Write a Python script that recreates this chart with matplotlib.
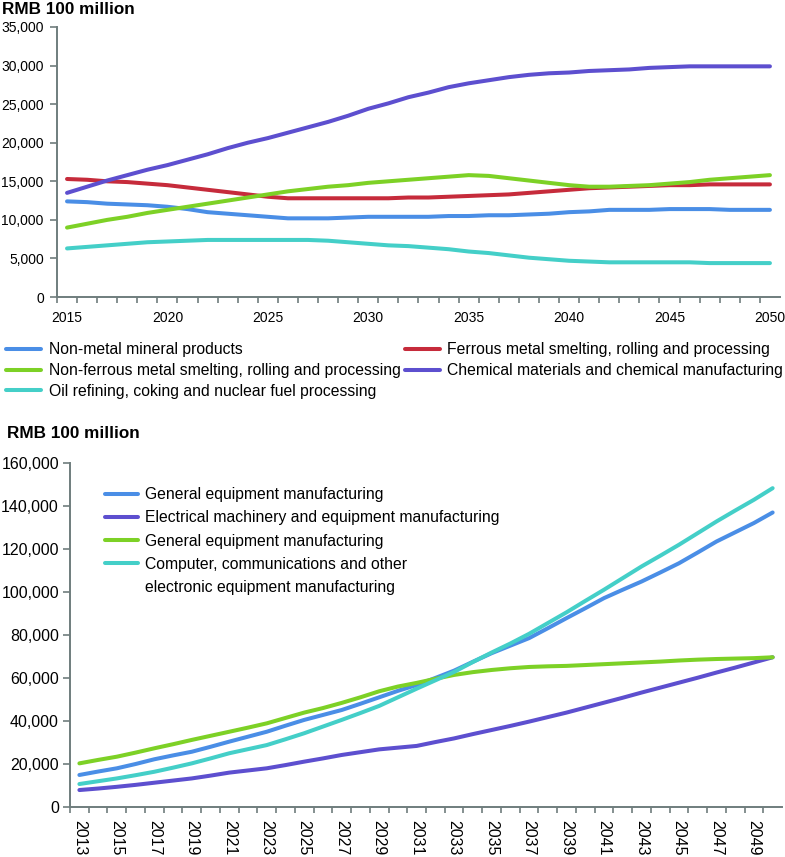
import matplotlib
matplotlib.use("Agg")
import matplotlib.pyplot as plt
from matplotlib.lines import Line2D
import numpy as np

plt.rcParams['font.family'] = ['Liberation Sans', 'DejaVu Sans']

# ---------------- Top chart data ----------------
years_top = list(range(2015, 2051))
non_metal = [12400, 12300, 12100, 12000, 11900, 11700, 11400, 11000, 10800, 10600,
             10400, 10200, 10200, 10200, 10300, 10400, 10400, 10400, 10400, 10500,
             10500, 10600, 10600, 10700, 10800, 11000, 11100, 11300, 11300, 11300,
             11400, 11400, 11400, 11300, 11300, 11300]
ferrous = [15300, 15200, 15000, 14900, 14700, 14500, 14200, 13900, 13600, 13300,
           13000, 12800, 12800, 12800, 12800, 12800, 12800, 12900, 12900, 13000,
           13100, 13200, 13300, 13500, 13700, 13900, 14100, 14200, 14300, 14400,
           14500, 14500, 14600, 14600, 14600, 14600]
non_ferrous = [9000, 9500, 10000, 10400, 10900, 11300, 11700, 12100, 12500, 12900,
               13300, 13700, 14000, 14300, 14500, 14800, 15000, 15200, 15400, 15600,
               15800, 15700, 15400, 15100, 14800, 14500, 14300, 14300, 14400, 14500,
               14700, 14900, 15200, 15400, 15600, 15800]
chemical = [13500, 14300, 15100, 15800, 16500, 17100, 17800, 18500, 19300, 20000,
            20600, 21300, 22000, 22700, 23500, 24400, 25100, 25900, 26500, 27200,
            27700, 28100, 28500, 28800, 29000, 29100, 29300, 29400, 29500, 29700,
            29800, 29900, 29900, 29900, 29900, 29900]
oil = [6300, 6500, 6700, 6900, 7100, 7200, 7300, 7400, 7400, 7400,
       7400, 7400, 7400, 7300, 7100, 6900, 6700, 6600, 6400, 6200,
       5900, 5700, 5400, 5100, 4900, 4700, 4600, 4500, 4500, 4500,
       4500, 4500, 4400, 4400, 4400, 4400]

top_labels = ["Non-metal mineral products",
              "Ferrous metal smelting, rolling and processing",
              "Non-ferrous metal smelting, rolling and processing",
              "Chemical materials and chemical manufacturing",
              "Oil refining, coking and nuclear fuel processing"]

# ---------------- Bottom chart data ----------------
years_bot = list(range(2013, 2051))
general_1 = [14900, 16500, 18000, 20000, 22200, 24000, 25700, 28000, 30400, 32700,
             35000, 37800, 40500, 42800, 45100, 48000, 51000, 54000, 56700, 60000,
             63400, 67500, 71500, 75000, 78500, 83100, 87800, 92400, 97100, 101000,
             104800, 109000, 113300, 118300, 123400, 127700, 132000, 136900]
electrical = [7900, 8600, 9400, 10300, 11300, 12300, 13300, 14600, 16000, 17000,
              18000, 19500, 21100, 22600, 24200, 25500, 26800, 27600, 28400, 30200,
              31900, 33900, 35800, 37700, 39700, 41800, 43900, 46200, 48500, 50800,
              53200, 55500, 57800, 60100, 62500, 64800, 67200, 69600]
general_2 = [20300, 21900, 23400, 25300, 27300, 29200, 31200, 33100, 35000, 36900,
             38900, 41400, 43900, 46000, 48400, 51000, 53800, 56000, 57700, 59600,
             61400, 62700, 63700, 64500, 65100, 65400, 65600, 66000, 66400, 66800,
             67200, 67600, 68100, 68500, 68800, 69000, 69200, 69600]
computer = [10700, 12000, 13300, 14800, 16400, 18300, 20300, 22600, 25000, 26900,
            28800, 31500, 34300, 37400, 40500, 43700, 47000, 51000, 55000, 58900,
            62800, 67400, 71800, 76000, 80500, 85500, 90500, 95800, 101000, 106400,
            111800, 116800, 121900, 127300, 132700, 137800, 142800, 148200]

bot_labels = ["General equipment manufacturing",
              "Electrical machinery and equipment manufacturing",
              "General equipment manufacturing",
              "Computer, communications and other",
              "electronic equipment manufacturing"]

c_blue = "#4a8ee6"
c_red = "#c62b3b"
c_green = "#7dd126"
c_purple = "#5d4fcf"
c_cyan = "#44cfc8"
spine_c = "#6f7d7d"
lw = 2.9

fig = plt.figure(figsize=(7.85, 8.57), dpi=100)

def style_axes(ax, n, fs, ylen_pad):
    for s in ("top", "right"):
        ax.spines[s].set_visible(False)
    for s in ("left", "bottom"):
        ax.spines[s].set_color(spine_c)
        ax.spines[s].set_linewidth(1.4)
    ax.set_xlim(-0.5, n - 0.5)
    ax.set_xticks(np.arange(n) - 0.5, minor=True)
    ax.tick_params(axis="x", which="minor", length=4, width=1.2, color=spine_c, direction="out")
    ax.tick_params(axis="x", which="major", length=0, labelsize=fs, pad=6)
    ax.tick_params(axis="y", length=5, width=1.2, color=spine_c, labelsize=fs, pad=ylen_pad)

# ---------------- Top axes ----------------
ax1 = fig.add_axes([0.0726, 0.6534, 0.921, 0.3151])
xt = np.arange(len(years_top))
series_top = [(non_metal, c_blue), (ferrous, c_red), (non_ferrous, c_green),
              (chemical, c_purple), (oil, c_cyan)]
handles_top = []
for (vals, col), lab in zip(series_top, top_labels):
    h, = ax1.plot(xt, vals, color=col, lw=lw, solid_capstyle="round", label=lab)
    handles_top.append(h)
ax1.set_ylim(0, 35000)
ax1.set_yticks(np.arange(0, 35001, 5000))
ax1.set_yticklabels([f"{v:,}" for v in range(0, 35001, 5000)])
style_axes(ax1, len(years_top), 10, 4.5)
ax1.set_xticks([i for i, y in enumerate(years_top) if y % 5 == 0])
ax1.set_xticklabels([str(y) for y in years_top if y % 5 == 0])
ax1.tick_params(axis="x", which="major", pad=10)

fig.text(0.003, 0.9975, "RMB 100 million", fontsize=12.3, fontweight="bold", va="top", ha="left")

leg_kw = dict(frameon=False, fontsize=11.3, handlelength=2.2, handletextpad=0.5,
              borderpad=0, borderaxespad=0, labelspacing=0.36)
fig.legend([handles_top[0], handles_top[2], handles_top[4]],
           [top_labels[0], top_labels[2], top_labels[4]],
           loc="upper left", bbox_to_anchor=(0.008, 0.6005), **leg_kw)
fig.legend([handles_top[1], handles_top[3]],
           [top_labels[1], top_labels[3]],
           loc="upper left", bbox_to_anchor=(0.516, 0.6005), **leg_kw)

# ---------------- Bottom axes ----------------
ax2 = fig.add_axes([0.0892, 0.0583, 0.907, 0.4017])
xb = np.arange(len(years_bot))
series_bot = [(general_1, c_blue), (electrical, c_purple), (general_2, c_green), (computer, c_cyan)]
handles_bot = []
for (vals, col), lab in zip(series_bot, bot_labels[:4]):
    h, = ax2.plot(xb, vals, color=col, lw=lw, solid_capstyle="round", label=lab)
    handles_bot.append(h)
ax2.set_ylim(0, 160000)
ax2.set_yticks(np.arange(0, 160001, 20000))
ax2.set_yticklabels([f"{v:,}" for v in range(0, 160001, 20000)])
style_axes(ax2, len(years_bot), 11.5, 3)
ax2.set_xticks([i for i, y in enumerate(years_bot) if y % 2 == 1])
ax2.set_xticklabels([str(y) for y in years_bot if y % 2 == 1], rotation=270, va="top", ha="center")
ax2.tick_params(axis="x", which="major", pad=9)

fig.text(0.009, 0.4947, "RMB 100 million", fontsize=12.3, fontweight="bold", va="center", ha="left")

blank = Line2D([], [], color="none")
ax2.legend(handles_bot + [blank], bot_labels, loc="upper left",
           bbox_to_anchor=(0.049, 0.929), frameon=False, fontsize=11.3,
           handlelength=2.1, handletextpad=0.45, borderpad=0, borderaxespad=0,
           labelspacing=0.52)

fig.savefig("out.png", dpi=100)
